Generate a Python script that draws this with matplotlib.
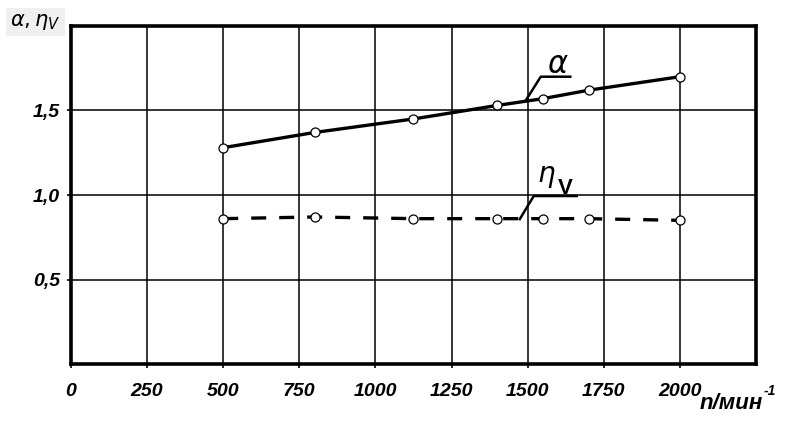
import matplotlib
matplotlib.use('Agg')
from matplotlib import pyplot as plt

# speed, rpm
n = [500, 800, 1125, 1400, 1550, 1700, 2000]
# excess air ratio alpha
alpha = [1.28, 1.37, 1.45, 1.53, 1.57, 1.62, 1.70]
# volumetric efficiency eta_V
eta_v = [0.86, 0.87, 0.86, 0.86, 0.86, 0.86, 0.85]

x_ticks = [0, 250, 500, 750, 1000, 1250, 1500, 1750, 2000]
y_ticks = [0.5, 1.0, 1.5]
y_labels = ['0,5', '1,0', '1,5']

fig = plt.figure(figsize=(7.87, 4.29), dpi=100)
ax = fig.add_axes([0.0902, 0.1515, 0.8704, 0.7879])

ax.set_xlim(0, 2250)
ax.set_ylim(0, 2.0)

# grid
for gx in x_ticks[1:]:
    ax.axvline(gx, color='black', lw=1.1, zorder=1)
for gy in y_ticks:
    ax.axhline(gy, color='black', lw=1.1, zorder=1)

ax.plot(n, alpha, color='black', lw=2.4, zorder=3)
ax.plot(n, alpha, 'o', ms=6.5, mfc='white', mec='black', mew=0.9, zorder=4)
ax.plot(n, eta_v, color='black', lw=2.4, dashes=(4.5, 3.9), zorder=3)
ax.plot(n, eta_v, 'o', ms=6.5, mfc='white', mec='black', mew=0.9, zorder=4)

# leader lines with curve labels
ax.plot([1494, 1543, 1640], [1.56, 1.70, 1.70], color='black', lw=1.8, zorder=5)
ax.text(1598, 1.775, r'$\alpha$', fontsize=22, ha='center', va='center')
ax.plot([1474, 1520, 1661], [0.857, 0.994, 0.994], color='black', lw=1.8, zorder=5)
ax.text(1560, 1.11, r'$\eta$', fontsize=20, ha='center', va='center')
ax.text(1625, 1.04, 'V', fontsize=16, fontweight='bold', family='Liberation Sans',
        ha='center', va='center')

ax.set_xticks(x_ticks)
ax.set_xticklabels([str(t) for t in x_ticks])
ax.set_yticks(y_ticks)
ax.set_yticklabels(y_labels)
for lab in ax.get_xticklabels() + ax.get_yticklabels():
    lab.set_family('Liberation Sans')
    lab.set_fontweight('bold')
    lab.set_style('italic')
    lab.set_fontsize(14)
ax.tick_params(axis='x', length=3, width=1.2, pad=11)
ax.tick_params(axis='y', length=3, width=1.2, pad=5)

for sp in ax.spines.values():
    sp.set_linewidth(2.6)

# axis titles
fig.text(0.013, 0.948, r'$\alpha,\eta_V$', fontsize=15, ha='left', va='center',
         bbox=dict(facecolor='#f0f0f0', edgecolor='none', pad=3))
fig.text(0.889, 0.06, 'n/мин', fontsize=16, family='Liberation Sans',
         style='italic', fontweight='bold', ha='left', va='center')
fig.text(0.970, 0.088, '-1', fontsize=10, family='Liberation Sans',
         style='italic', fontweight='bold', ha='left', va='center')

fig.savefig('out.png', dpi=100)
